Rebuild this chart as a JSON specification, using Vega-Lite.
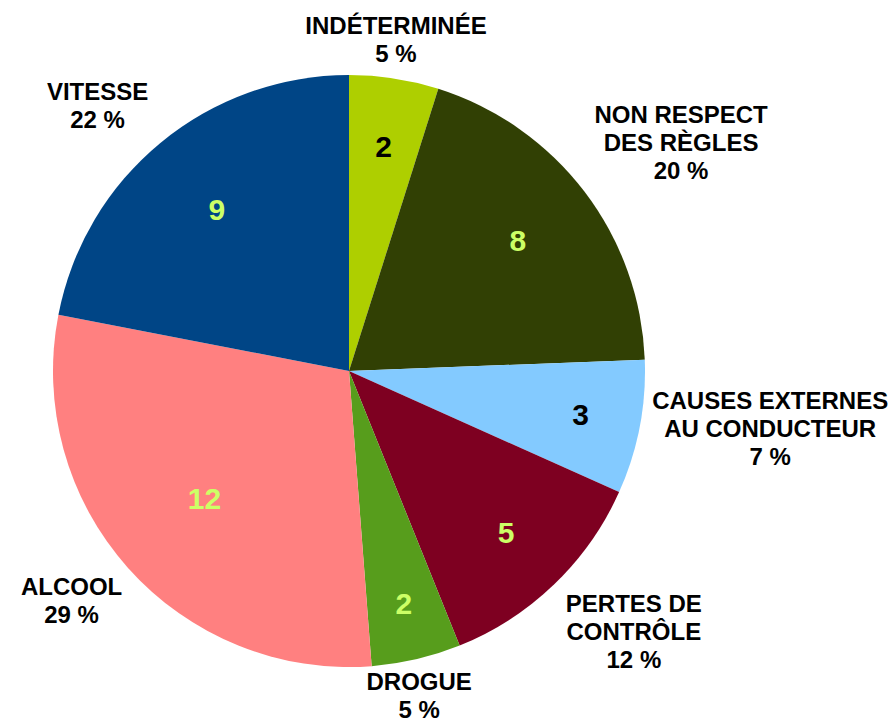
{
  "$schema": "https://vega.github.io/schema/vega-lite/v6.json",
  "autosize": "none",
  "width": 698,
  "height": 650,
  "padding": {"left": 0, "top": 46, "right": 197, "bottom": 27},
  "background": "white",
  "config": {"view": {"stroke": null}},
  "data": {
    "values": [
      {"cause": "INDÉTERMINÉE", "n": 2, "ordre": 1, "label": ["INDÉTERMINÉE", "5 %"]},
      {"cause": "NON RESPECT DES RÈGLES", "n": 8, "ordre": 2, "label": ["NON RESPECT", "DES RÈGLES", "20 %"]},
      {"cause": "CAUSES EXTERNES AU CONDUCTEUR", "n": 3, "ordre": 3, "label": ["CAUSES EXTERNES", "AU CONDUCTEUR", "7 %"]},
      {"cause": "PERTES DE CONTRÔLE", "n": 5, "ordre": 4, "label": ["PERTES DE", "CONTRÔLE", "12 %"]},
      {"cause": "DROGUE", "n": 2, "ordre": 5, "label": ["DROGUE", "5 %"]},
      {"cause": "ALCOOL", "n": 12, "ordre": 6, "label": ["ALCOOL", "29 %"]},
      {"cause": "VITESSE", "n": 9, "ordre": 7, "label": ["VITESSE", "22 %"]}
    ]
  },
  "encoding": {
    "theta": {"field": "n", "type": "quantitative", "stack": true},
    "order": {"field": "ordre", "type": "quantitative"}
  },
  "layer": [
    {
      "mark": {"type": "arc", "outerRadius": 296},
      "encoding": {
        "color": {
          "field": "cause",
          "type": "nominal",
          "scale": {
            "domain": ["INDÉTERMINÉE", "NON RESPECT DES RÈGLES", "CAUSES EXTERNES AU CONDUCTEUR", "PERTES DE CONTRÔLE", "DROGUE", "ALCOOL", "VITESSE"],
            "range": ["#aecf00", "#314004", "#83caff", "#7e0021", "#579d1c", "#ff8080", "#004586"]
          },
          "legend": null
        }
      }
    },
    {
      "mark": {
        "type": "text",
        "radius": {"expr": "datum.ordre == 1 ? 226 : 250 - 4.7*datum.n"},
        "font": "Liberation Sans",
        "fontWeight": "bold",
        "fontSize": 30,
        "align": "center",
        "baseline": "middle"
      },
      "encoding": {
        "text": {"field": "n", "type": "quantitative"},
        "color": {
          "condition": {"test": "datum.ordre == 1 || datum.ordre == 3", "value": "#000000"},
          "value": "#ccff66"
        }
      }
    },
    {
      "mark": {
        "type": "text",
        "radius": 308,
        "font": "Liberation Sans",
        "fontWeight": "bold",
        "fontSize": 24,
        "lineHeight": 28,
        "align": "center",
        "baseline": {"expr": "cos(PI*(datum.n_start+datum.n_end)/41) > 0.3 ? 'bottom' : (cos(PI*(datum.n_start+datum.n_end)/41) < -0.3 ? 'top' : 'middle')"},
        "dy": {"expr": "cos(PI*(datum.n_start+datum.n_end)/41) > 0.3 ? -(length(datum.label)-1)*28 : (cos(PI*(datum.n_start+datum.n_end)/41) < -0.3 ? 0 : -(length(datum.label)-1)*14)"},
        "dx": {"expr": "(sin(PI*(datum.n_start+datum.n_end)/41) > 0.3 ? 1 : (sin(PI*(datum.n_start+datum.n_end)/41) < -0.3 ? -1 : 0)) * 0.33 * 24 * length(datum.label[0])"}
      },
      "encoding": {
        "text": {"field": "label"},
        "color": {"value": "#000000"}
      }
    }
  ]
}
